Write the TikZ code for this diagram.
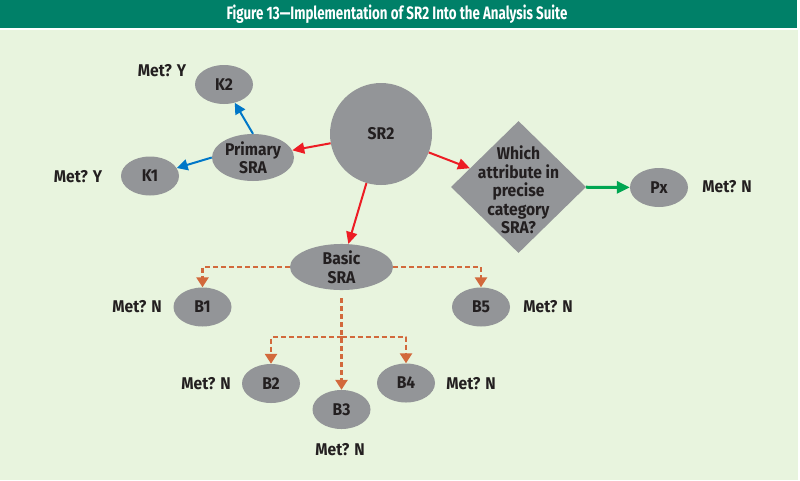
\documentclass[tikz,border=0pt]{standalone}
\usepackage{fontspec}
\setmainfont{Fira Sans}[FakeStretch=0.92]
\newfontfamily\titlefont{Fira Sans}[FakeStretch=0.74]
\usetikzlibrary{arrows.meta,shapes.geometric}

\definecolor{barteal}{RGB}{0,128,104}
\definecolor{bgmint}{RGB}{232,244,222}
\definecolor{nodegray}{RGB}{147,149,152}
\definecolor{txtdark}{RGB}{35,31,32}
\definecolor{srared}{RGB}{237,28,36}
\definecolor{kblue}{RGB}{0,119,200}
\definecolor{pgreen}{RGB}{0,166,81}
\definecolor{borange}{RGB}{210,105,60}

\newcommand\diagfont{\fontsize{17}{18.5}\selectfont\bfseries}

\begin{document}
\begin{tikzpicture}[x=1pt, y=-1pt, line join=round]
  % ---- Styles ----
  \tikzset{
    blob/.style={ellipse, fill=nodegray, inner sep=0pt, minimum width=58pt,
      minimum height=39pt, font=\diagfont, text=txtdark, align=center},
    hub/.style={circle, fill=nodegray, inner sep=0pt, minimum size=102pt,
      font=\diagfont, text=txtdark},
    decision/.style={diamond, fill=nodegray, inner sep=0pt,
      minimum width=135pt, minimum height=132pt},
    met/.style={font=\diagfont, text=txtdark},
    titletxt/.style={font=\titlefont\fontsize{18}{19}\selectfont\bfseries, text=white},
    redarrow/.style={-{Triangle[length=12pt,width=11pt]}, srared, line width=2pt},
    bluearrow/.style={-{Triangle[length=11pt,width=11pt]}, kblue, line width=2pt},
    greenarrow/.style={-{Triangle[length=13pt,width=12pt]}, pgreen, line width=3pt},
    dashline/.style={-{Triangle[length=10pt,width=12pt]}, borange,
      line width=2.5pt, dash pattern=on 5pt off 3pt},
  }

  % ---- Frame ----
  \useasboundingbox (0,0) rectangle (800,480);
  \fill[white] (0,0) rectangle (800,480);
  \fill[bgmint] (0,30) rectangle (798,480);
  \fill[barteal] (0,0) rectangle (797,28);
  \node[titletxt] (title) at (397,14) {Figure 13—Implementation of SR2 Into the Analysis Suite};

  % ---- Nodes ----
  \node[hub] (sr2) at (381,134) {SR2};
  \node[blob, minimum width=82pt, minimum height=47pt] (primary) at (253,157.5) {Primary\\SRA};
  \node[blob] (k2) at (224,84.5) {K2};
  \node[blob] (k1) at (150,176) {K1};
  \node[blob, minimum width=103pt, minimum height=44pt] (basic) at (341.5,267) {Basic\\SRA};
  \node[decision] (attr) at (518.5,187) {};
  \node[met, align=center] (attrtext) at ([yshift=-3pt]attr) {Which\\attribute in\\precise\\category\\SRA?};
  \node[blob] (px) at (659,187.5) {Px};

  \node[blob] (b1) at (202.5,307) {B1};
  \node[blob] (b5) at (481,307) {B5};
  \node[blob] (b2) at (271,383.5) {B2};
  \node[blob] (b3) at (341.5,409.5) {B3};
  \node[blob] (b4) at (406,383) {B4};

  % Met labels
  \node[met] (metk2) at (162,71) {Met? Y};
  \node[met] (metk1) at (78,177) {Met? Y};
  \node[met] (metpx) at (727,187) {Met? N};
  \node[met] (metb1) at (137,307) {Met? N};
  \node[met] (metb5) at (548,307) {Met? N};
  \node[met] (metb2) at (206,384) {Met? N};
  \node[met] (metb4) at (471,384) {Met? N};
  \node[met] (metb3) at (340,450) {Met? N};

  % ---- Connectors ----
  \draw[redarrow] (sr2) -- (primary);
  \draw[redarrow] (sr2) -- (attr);
  \draw[redarrow] (sr2) -- (basic);
  \draw[bluearrow] (primary.north) -- (k2);
  \draw[bluearrow] (primary.west) -- (k1);
  \draw[greenarrow] (attr) -- (px);

  % dashed tree below Basic SRA
  \coordinate (fork) at (341.5,337);
  \draw[dashline] (basic.west) -| (b1.north);
  \draw[dashline] (basic.east) -| (b5.north);
  \draw[dashline, shorten <=8pt] (basic.south) -- (b3.north);
  \draw[dashline] (fork) -| (b2.north);
  \draw[dashline] (fork) -| (b4.north);

\end{tikzpicture}
\end{document}
